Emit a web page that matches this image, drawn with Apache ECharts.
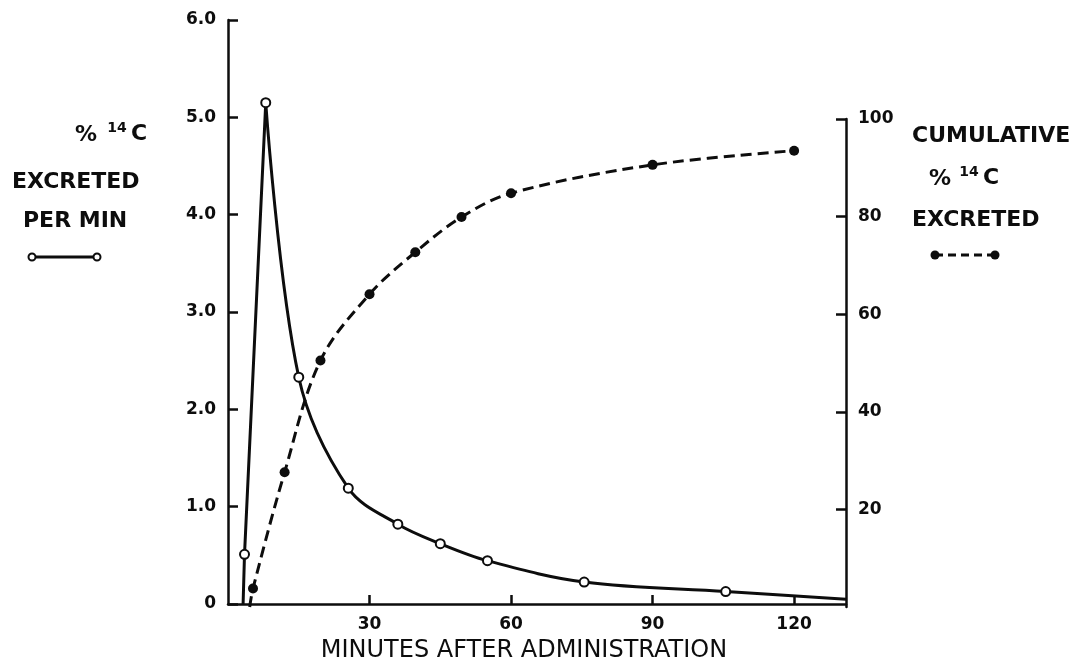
<!DOCTYPE html>
<html><head><meta charset="utf-8">
<script src="https://cdn.jsdelivr.net/npm/echarts@6/dist/echarts.min.js"></script>
<style>html,body{margin:0;padding:0;background:#fff}#c{width:1077px;height:668px}</style>
</head><body><div id="c"></div>
<script>
// % 14C excreted per minute (left axis), minutes after administration
const rateMinutes = [3.2, 3.5, 8, 15, 25.5, 36, 45, 55, 75.5, 105.5, 131];
const rateValues  = [0, 0.51, 5.15, 2.33, 1.19, 0.82, 0.62, 0.445, 0.225, 0.128, 0.05];
const rateMarked  = [false, true, true, true, true, true, true, true, true, true, false];
const peakIndex = 2;
// cumulative % 14C excreted (right axis)
const cumMinutes = [4.6, 5.3, 12, 19.6, 30, 39.7, 49.5, 60, 90, 120];
const cumValues  = [0, 3.8, 27.6, 50.5, 64.1, 72.7, 79.9, 84.8, 90.6, 93.5];
const cumMarked  = [false, true, true, true, true, true, true, true, true, true];
// tick labels
const xTicks = [30, 60, 90, 120];
const rightTicks = [20, 40, 60, 80, 100];
const xTitle = 'MINUTES AFTER ADMINISTRATION';

const FONT = '"DejaVu Sans", sans-serif';
const BLACK = '#0d0d0d';

function pts(xs, ys, marks, from, to, hideFirst) {
  const out = [];
  for (let i = from; i <= to; i++) {
    const item = { value: [xs[i], ys[i]] };
    if (!marks[i] || (hideFirst && i === from)) item.symbol = 'none';
    out.push(item);
  }
  return out;
}

const axisLine = { show: true, lineStyle: { color: BLACK, width: 2.5 } };
const tickLabel = { color: BLACK, fontSize: 17, fontWeight: 'bold', fontFamily: FONT, margin: 12 };

const chart = echarts.init(document.getElementById('c'), null, { renderer: 'canvas' });
chart.setOption({
  backgroundColor: '#fff',
  animation: false,
  grid: [
    { left: 228, right: 231, top: 20, bottom: 61 },
    { left: 228, right: 231, top: 119, bottom: 61 }
  ],
  xAxis: [
    {
      gridIndex: 0, type: 'value', min: 0, max: 131,
      axisLine: axisLine,
      axisTick: { show: true, inside: true, length: 9, lineStyle: { color: BLACK, width: 2.5 }, customValues: xTicks },
      axisLabel: Object.assign({ customValues: xTicks }, tickLabel),
      splitLine: { show: false },
      name: xTitle, nameLocation: 'middle', nameGap: 35,
      nameTextStyle: { color: BLACK, fontSize: 24, fontFamily: FONT, padding: [0, 26, 0, 0] }
    },
    { gridIndex: 1, type: 'value', min: 0, max: 131, show: false }
  ],
  yAxis: [
    {
      gridIndex: 0, type: 'value', min: 0, max: 6, interval: 1,
      axisLine: axisLine,
      axisTick: { show: true, inside: true, length: 10, lineStyle: { color: BLACK, width: 2.5 } },
      axisLabel: Object.assign({ formatter: v => v === 0 ? '0' : v.toFixed(1) }, tickLabel),
      splitLine: { show: false }
    },
    {
      gridIndex: 1, type: 'value', position: 'right', min: 0, max: 100, interval: 20,
      axisLine: Object.assign({ onZero: false }, axisLine),
      axisTick: { show: true, inside: true, length: 10, lineStyle: { color: BLACK, width: 2.5 }, customValues: rightTicks },
      axisLabel: Object.assign({ customValues: rightTicks }, tickLabel),
      splitLine: { show: false }
    }
  ],
  series: [
    {
      name: 'rate decay', type: 'line', xAxisIndex: 0, yAxisIndex: 0,
      data: pts(rateMinutes, rateValues, rateMarked, peakIndex, rateMinutes.length - 1, true),
      smooth: 0.35, symbol: 'circle', symbolSize: 9,
      lineStyle: { color: BLACK, width: 3 },
      itemStyle: { color: '#fff', borderColor: BLACK, borderWidth: 2 },
      z: 2
    },
    {
      name: 'rate rise', type: 'line', xAxisIndex: 0, yAxisIndex: 0,
      data: pts(rateMinutes, rateValues, rateMarked, 0, peakIndex, false),
      smooth: false, symbol: 'circle', symbolSize: 9,
      lineStyle: { color: BLACK, width: 3 },
      itemStyle: { color: '#fff', borderColor: BLACK, borderWidth: 2 },
      z: 3
    },
    {
      name: 'cumulative', type: 'line', xAxisIndex: 1, yAxisIndex: 1,
      data: pts(cumMinutes, cumValues, cumMarked, 0, cumMinutes.length - 1, false),
      smooth: 0.35, symbol: 'circle', symbolSize: 10,
      lineStyle: { color: BLACK, width: 3, type: [11, 6] },
      itemStyle: { color: BLACK },
      z: 4
    }
  ],
  graphic: [
    // left axis title
    { type: 'text', x: 86, y: 135, style: { text: '%', font: 'bold 22px ' + FONT, fill: BLACK, align: 'center', verticalAlign: 'middle' } },
    { type: 'text', x: 117, y: 128, style: { text: '14', font: 'bold 14px ' + FONT, fill: BLACK, align: 'center', verticalAlign: 'middle' } },
    { type: 'text', x: 139, y: 134, style: { text: 'C', font: 'bold 22px ' + FONT, fill: BLACK, align: 'center', verticalAlign: 'middle' } },
    { type: 'text', x: 12, y: 182, style: { text: 'EXCRETED', font: 'bold 22px ' + FONT, fill: BLACK, align: 'left', verticalAlign: 'middle' } },
    { type: 'text', x: 23, y: 221, style: { text: 'PER MIN', font: 'bold 22px ' + FONT, fill: BLACK, align: 'left', verticalAlign: 'middle' } },
    { type: 'line', shape: { x1: 32, y1: 257, x2: 97, y2: 257 }, style: { stroke: BLACK, lineWidth: 3 } },
    { type: 'circle', shape: { cx: 32, cy: 257, r: 3.5 }, style: { fill: '#fff', stroke: BLACK, lineWidth: 2 } },
    { type: 'circle', shape: { cx: 97, cy: 257, r: 3.5 }, style: { fill: '#fff', stroke: BLACK, lineWidth: 2 } },
    // right axis title
    { type: 'text', x: 912, y: 136, style: { text: 'CUMULATIVE', font: 'bold 22px ' + FONT, fill: BLACK, align: 'left', verticalAlign: 'middle' } },
    { type: 'text', x: 940, y: 179, style: { text: '%', font: 'bold 22px ' + FONT, fill: BLACK, align: 'center', verticalAlign: 'middle' } },
    { type: 'text', x: 969, y: 172, style: { text: '14', font: 'bold 14px ' + FONT, fill: BLACK, align: 'center', verticalAlign: 'middle' } },
    { type: 'text', x: 991, y: 178, style: { text: 'C', font: 'bold 22px ' + FONT, fill: BLACK, align: 'center', verticalAlign: 'middle' } },
    { type: 'text', x: 912, y: 220, style: { text: 'EXCRETED', font: 'bold 22px ' + FONT, fill: BLACK, align: 'left', verticalAlign: 'middle' } },
    { type: 'line', shape: { x1: 935, y1: 255, x2: 995, y2: 255 }, style: { stroke: BLACK, lineWidth: 3, lineDash: [8, 5] } },
    { type: 'circle', shape: { cx: 935, cy: 255, r: 4.5 }, style: { fill: BLACK } },
    { type: 'circle', shape: { cx: 995, cy: 255, r: 4.5 }, style: { fill: BLACK } }
  ]
});
</script>
</body></html>
